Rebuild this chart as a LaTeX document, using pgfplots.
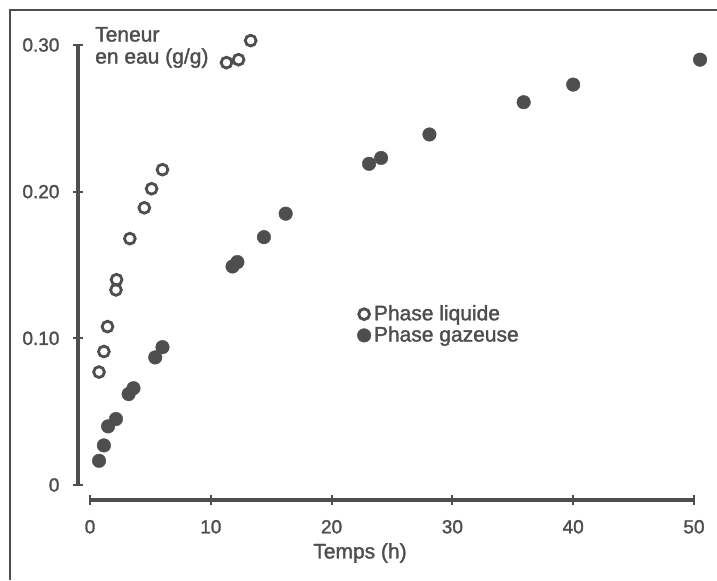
\documentclass[border=0pt]{standalone}
\usepackage{pgfplots}
\pgfplotsset{compat=1.18}
\usepackage{fontspec}
\setmainfont{Liberation Sans}[BoldFont={Liberation Sans}, BoldFeatures={FakeBold=1.6}]
\definecolor{ink}{RGB}{78,78,78}
\pgfplotstableread{
x y
0.75 0.077
1.15 0.091
1.45 0.108
2.15 0.133
2.2 0.140
3.3 0.168
4.5 0.189
5.1 0.202
6.0 0.215
11.3 0.288
12.3 0.290
13.3 0.303
}\liquide
\pgfplotstableread{
x y
0.75 0.0165
1.15 0.027
1.5 0.040
2.15 0.045
3.2 0.062
3.6 0.066
5.4 0.087
6.0 0.094
11.8 0.149
12.2 0.152
14.4 0.169
16.2 0.185
23.1 0.219
24.1 0.223
28.1 0.239
35.9 0.261
40.0 0.273
50.5 0.290
}\gazeuse
\begin{document}
\begin{tikzpicture}
\useasboundingbox (-45pt,-47.5pt) rectangle (313.5pt,242.5pt);
\draw[ink, line width=1pt] (-40pt,-47.5pt) -- (-40pt,237.5pt) -- (313.5pt,237.5pt);
\begin{axis}[
  at={(0,0)}, anchor=origin,
  scale only axis, width=302pt, height=220pt,
  xmin=0, xmax=50, ymin=0, ymax=0.30,
  clip=false,
  axis lines*=left, separate axis lines,
  axis x line shift=7.5pt, axis y line shift=5.75pt,
  x axis line style={ink, line width=2.2pt},
  y axis line style={ink, line width=2pt},
  xtick={0,10,20,30,40,50},
  xticklabels={0,10,20,30,40,50},
  ytick={0,0.1,0.2,0.3},
  yticklabels={0,0.10,0.20,0.30},
  tick align=center,
  major tick length=5pt,
  tick style={ink, line width=1pt},
  ticklabel style={font=\bfseries\fontsize{9.5}{11}\selectfont, text=ink},
  yticklabel style={xshift=-3.5pt},
  xticklabel style={yshift=-4pt},
  xlabel={Temps (h)},
  xlabel style={at={(rel axis cs:0.447,0)}, anchor=center, yshift=-34pt, font=\bfseries\fontsize{10.5}{12}\selectfont, text=ink},
  legend style={draw=none, fill=none, inner sep=0pt, at={(axis cs:22.1,0.125)}, anchor=north west,
    font=\bfseries\fontsize{10.5}{12}\selectfont, text=ink, row sep=-1.5pt,
    nodes={inner sep=1.5pt}},
  legend cell align=left,
  legend image code/.code={\draw[#1, only marks] plot coordinates {(0pt,0pt)};},
]
\addplot[only marks, mark=o, mark size=2.7pt, mark options={ink, line width=1.4pt}] table {\liquide};
\addlegendentry{Phase liquide}
\addplot[only marks, mark=*, mark size=3.4pt, mark options={draw=ink, fill=ink, line width=0.2pt}] table {\gazeuse};
\addlegendentry{Phase gazeuse}
\node[anchor=north west, align=left, inner sep=0pt, text=ink, font=\bfseries\fontsize{10.5}{11}\selectfont]
  at (axis cs:0.4,0.3125) {Teneur\\en eau (g/g)};
\end{axis}
\end{tikzpicture}
\end{document}
